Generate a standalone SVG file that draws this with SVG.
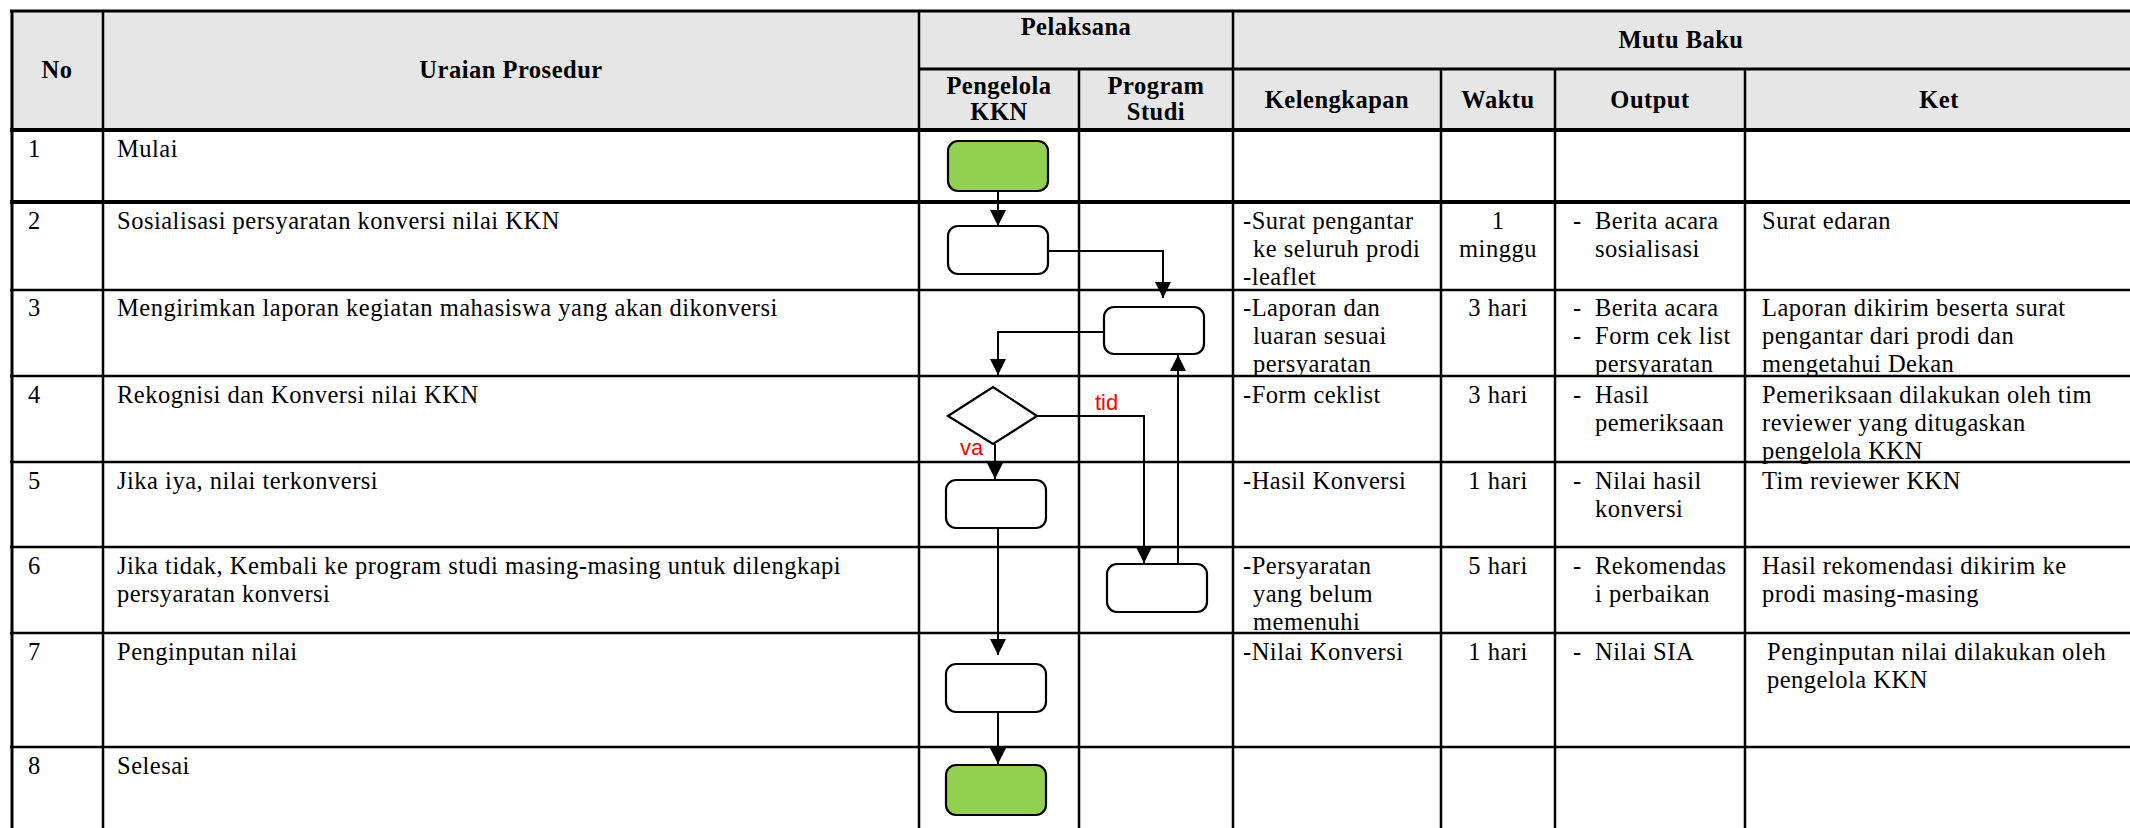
<svg xmlns="http://www.w3.org/2000/svg" width="2130" height="828" viewBox="0 0 2130 828">
<style>
.t{font-family:"Liberation Serif","Times New Roman",serif;font-size:24.5px;letter-spacing:0.5px;fill:#000}
.h{font-family:"Liberation Serif","Times New Roman",serif;font-size:24.5px;font-weight:bold;letter-spacing:0.5px;fill:#000;text-anchor:middle}
.c{text-anchor:middle}
.lbl{font-family:"Liberation Sans",Arial,sans-serif;font-size:22px;fill:#FF0000}
.grid{stroke:#000;fill:none}
.box{fill:#fff;stroke:#000;stroke-width:2.2}
.term{fill:#92D050;stroke:#000;stroke-width:2.2}
.con{fill:none;stroke:#000;stroke-width:2}
</style>
<defs>
<marker id="arr" markerUnits="userSpaceOnUse" markerWidth="17" markerHeight="17" refX="16" refY="8" orient="auto">
<path d="M0,0 L16,8 L0,16 z" fill="#000"/>
</marker>
</defs>
<rect width="2130" height="828" fill="#fff"/>
<g id="table">
<rect x="12" y="11" width="2130" height="119" fill="#E6E6E6"/>
<g class="grid">
<line x1="10" y1="11" x2="2130" y2="11" stroke-width="3"/>
<line x1="919" y1="69" x2="2130" y2="69" stroke-width="3"/>
<line x1="10" y1="130" x2="2130" y2="130" stroke-width="4"/>
<line x1="10" y1="202" x2="2130" y2="202" stroke-width="4"/>
<line x1="10" y1="290" x2="2130" y2="290" stroke-width="2.5"/>
<line x1="10" y1="376" x2="2130" y2="376" stroke-width="2.5"/>
<line x1="10" y1="462" x2="2130" y2="462" stroke-width="2.5"/>
<line x1="10" y1="547" x2="2130" y2="547" stroke-width="2.5"/>
<line x1="10" y1="633" x2="2130" y2="633" stroke-width="2.5"/>
<line x1="10" y1="747" x2="2130" y2="747" stroke-width="2.5"/>
<line x1="12" y1="10" x2="12" y2="828" stroke-width="3"/>
<line x1="103" y1="10" x2="103" y2="828" stroke-width="2.5"/>
<line x1="919" y1="10" x2="919" y2="828" stroke-width="2.5"/>
<line x1="1079" y1="69" x2="1079" y2="828" stroke-width="2.5"/>
<line x1="1233" y1="10" x2="1233" y2="828" stroke-width="2.5"/>
<line x1="1441" y1="69" x2="1441" y2="828" stroke-width="2.5"/>
<line x1="1555" y1="69" x2="1555" y2="828" stroke-width="2.5"/>
<line x1="1745" y1="69" x2="1745" y2="828" stroke-width="2.5"/>
</g>
<text class="h" x="57" y="78">No</text>
<text class="h" x="511" y="78">Uraian Prosedur</text>
<text class="h" x="1076" y="35">Pelaksana</text>
<text class="h" x="1681" y="48">Mutu Baku</text>
<text class="h" x="999" y="94">Pengelola</text>
<text class="h" x="999" y="120">KKN</text>
<text class="h" x="1156" y="94">Program</text>
<text class="h" x="1156" y="120">Studi</text>
<text class="h" x="1337" y="108">Kelengkapan</text>
<text class="h" x="1498" y="108">Waktu</text>
<text class="h" x="1650" y="108">Output</text>
<text class="h" x="1939" y="108">Ket</text>
</g>
<g id="col-no" class="t">
<text x="28" y="157">1</text>
<text x="28" y="229">2</text>
<text x="28" y="316">3</text>
<text x="28" y="403">4</text>
<text x="28" y="489">5</text>
<text x="28" y="574">6</text>
<text x="28" y="660">7</text>
<text x="28" y="774">8</text>
</g>
<g id="col-uraian" class="t">
<text x="117" y="157">Mulai</text>
<text x="117" y="229">Sosialisasi persyaratan konversi nilai KKN</text>
<text x="117" y="316">Mengirimkan laporan kegiatan mahasiswa yang akan dikonversi</text>
<text x="117" y="403">Rekognisi dan Konversi nilai KKN</text>
<text x="117" y="489">Jika iya, nilai terkonversi</text>
<text x="117" y="574">Jika tidak, Kembali ke program studi masing-masing untuk dilengkapi</text>
<text x="117" y="602">persyaratan konversi</text>
<text x="117" y="660">Penginputan nilai</text>
<text x="117" y="774">Selesai</text>
</g>
<g id="col-kelengkapan" class="t">
<text x="1243" y="229">-Surat pengantar</text>
<text x="1253" y="257">ke seluruh prodi</text>
<text x="1243" y="285">-leaflet</text>
<text x="1243" y="316">-Laporan dan</text>
<text x="1253" y="344">luaran sesuai</text>
<text x="1253" y="372">persyaratan</text>
<text x="1243" y="403">-Form ceklist</text>
<text x="1243" y="489">-Hasil Konversi</text>
<text x="1243" y="574">-Persyaratan</text>
<text x="1253" y="602">yang belum</text>
<text x="1253" y="630">memenuhi</text>
<text x="1243" y="660">-Nilai Konversi</text>
</g>
<g id="col-waktu" class="t c">
<text x="1498" y="229">1</text>
<text x="1498" y="257">minggu</text>
<text x="1498" y="316">3 hari</text>
<text x="1498" y="403">3 hari</text>
<text x="1498" y="489">1 hari</text>
<text x="1498" y="574">5 hari</text>
<text x="1498" y="660">1 hari</text>
</g>
<g id="col-output" class="t">
<text x="1573" y="229">-</text><text x="1595" y="229">Berita acara</text>
<text x="1595" y="257">sosialisasi</text>
<text x="1573" y="316">-</text><text x="1595" y="316">Berita acara</text>
<text x="1573" y="344">-</text><text x="1595" y="344">Form cek list</text>
<text x="1595" y="372">persyaratan</text>
<text x="1573" y="403">-</text><text x="1595" y="403">Hasil</text>
<text x="1595" y="431">pemeriksaan</text>
<text x="1573" y="489">-</text><text x="1595" y="489">Nilai hasil</text>
<text x="1595" y="517">konversi</text>
<text x="1573" y="574">-</text><text x="1595" y="574">Rekomendas</text>
<text x="1595" y="602">i perbaikan</text>
<text x="1573" y="660">-</text><text x="1595" y="660">Nilai SIA</text>
</g>
<g id="col-ket" class="t">
<text x="1762" y="229">Surat edaran</text>
<text x="1762" y="316">Laporan dikirim beserta surat</text>
<text x="1762" y="344">pengantar dari prodi dan</text>
<text x="1762" y="372">mengetahui Dekan</text>
<text x="1762" y="403">Pemeriksaan dilakukan oleh tim</text>
<text x="1762" y="431">reviewer yang ditugaskan</text>
<text x="1762" y="459">pengelola KKN</text>
<text x="1762" y="489">Tim reviewer KKN</text>
<text x="1762" y="574">Hasil rekomendasi dikirim ke</text>
<text x="1762" y="602">prodi masing-masing</text>
<text x="1767" y="660">Penginputan nilai dilakukan oleh</text>
<text x="1767" y="688">pengelola KKN</text>
</g>
<g id="connectors">
<path class="con" d="M998,191 V226" marker-end="url(#arr)"/>
<path class="con" d="M1048,251 H1163 V298" marker-end="url(#arr)"/>
<path class="con" d="M1104,332 H998 V375" marker-end="url(#arr)"/>
<path class="con" d="M1037,416 H1144 V563" marker-end="url(#arr)"/>
<path class="con" d="M1178,564 V355" marker-end="url(#arr)"/>
<path class="con" d="M995,444 V479" marker-end="url(#arr)"/>
<path class="con" d="M998,528 V655" marker-end="url(#arr)"/>
<path class="con" d="M998,712 V764" marker-end="url(#arr)"/>
<text class="lbl" x="1095" y="410">tid</text>
<text class="lbl" x="960" y="455">va</text>
</g>
<g id="n1-mulai"><rect class="term" x="948" y="141" width="100" height="50" rx="10"/></g>
<g id="n2-sosialisasi"><rect class="box" x="948" y="226" width="100" height="48" rx="10"/></g>
<g id="n3-kirim"><rect class="box" x="1104" y="307" width="100" height="47" rx="10"/></g>
<g id="n4-decision"><polygon class="box" points="948,416 993,387 1037,416 993,444"/></g>
<g id="n5-konversi"><rect class="box" x="946" y="480" width="100" height="48" rx="10"/></g>
<g id="n6-kembali"><rect class="box" x="1107" y="564" width="100" height="48" rx="10"/></g>
<g id="n7-input"><rect class="box" x="946" y="664" width="100" height="48" rx="10"/></g>
<g id="n8-selesai"><rect class="term" x="946" y="765" width="100" height="50" rx="10"/></g>
</svg>
